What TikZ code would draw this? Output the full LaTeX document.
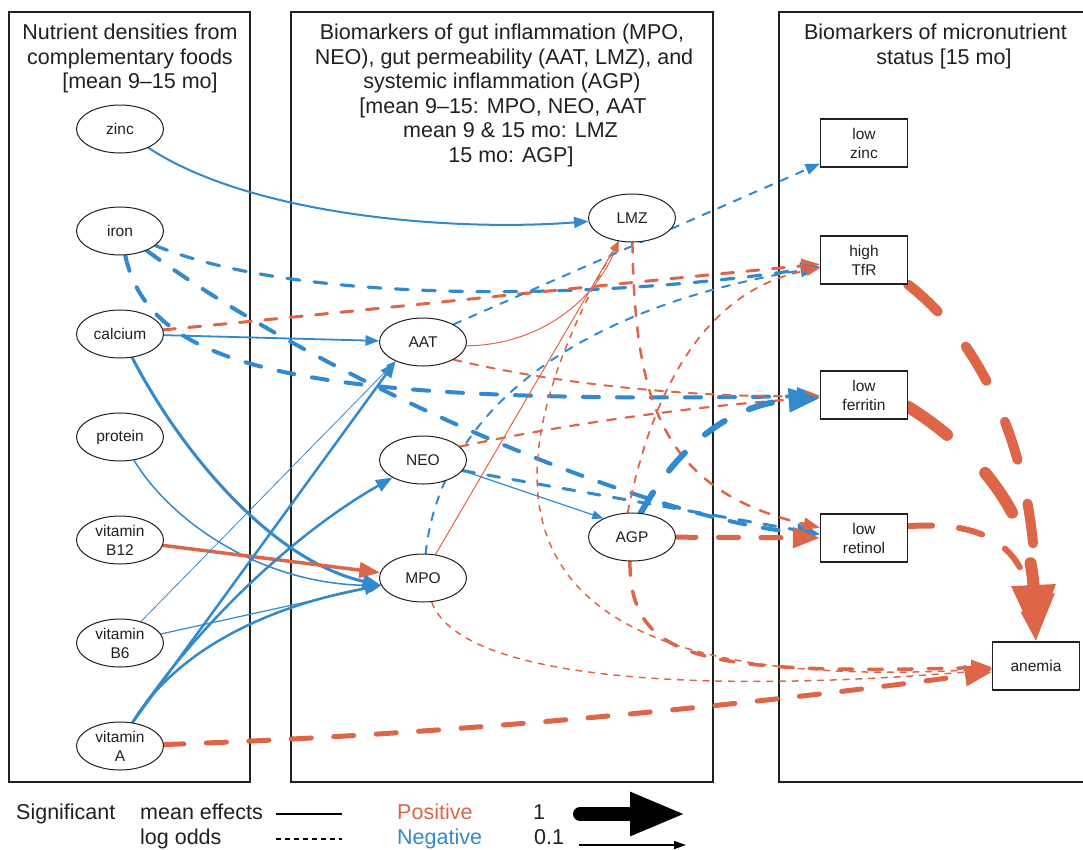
\documentclass[tikz,border=0pt]{standalone}
\usepackage{fontspec}
\setmainfont{Liberation Sans}
\usetikzlibrary{arrows.meta,shapes.geometric}
\definecolor{orng}{RGB}{221,101,72}
\definecolor{blu}{RGB}{50,137,205}
\definecolor{txt}{RGB}{35,31,32}
\pgfdeclarelayer{bg}
\pgfdeclarelayer{edges}
\pgfsetlayers{bg,edges,main}
\begin{document}
\begin{tikzpicture}[x=1pt,y=-1pt,
  every node/.style={text=txt},
  oval/.style={draw=txt, ellipse, fill=white, minimum width=87pt, minimum height=48pt, inner sep=0pt, line width=1pt, font=\fontsize{15.5}{19}\selectfont, align=center},
  sbox/.style={draw=txt, rectangle, fill=white, minimum width=87pt, minimum height=48pt, inner sep=0pt, line width=1.2pt, font=\fontsize{15.5}{19}\selectfont, align=center},
  ttl/.style={anchor=base, inner sep=0pt, font=\fontsize{21.5}{24.5}\selectfont},
  lgd/.style={anchor=base west, inner sep=0pt, font=\fontsize{21.5}{24.5}\selectfont},
  poscol/.style={draw=orng, -{Triangle[length=6pt 4.2,width=5pt 3]}},
  negcol/.style={draw=blu, -{Triangle[length=6pt 4.2,width=5pt 3]}},
  dsh/.code={\pgfmathsetmacro\dOn{4*#1}\pgfmathsetmacro\dOff{4.5*#1}\edef\dTmp{\noexpand\pgfkeysalso{line width=#1pt,line cap=round,dash pattern=on \dOn pt off \dOff pt}}\dTmp},
  sld/.style={line width=#1pt, line cap=round},
]
\useasboundingbox (0,0) rectangle (1083,849);

% panels
\begin{pgfonlayer}{bg}
\draw[line width=1.2pt, draw=txt] (9,12) rectangle (250,782);
\draw[line width=1.2pt, draw=txt] (291,12) rectangle (713,782);
\draw[line width=1.2pt, draw=txt] (1090,12) -- (779,12) -- (779,782) -- (1090,782);
\end{pgfonlayer}

% titles
\node[ttl] (tl1) at (130,39.5) {Nutrient densities from};
\node[ttl] (tl2) at (130,64) {complementary foods};
\node[ttl] (tl3) at (140,88.5) {[mean 9–15 mo]};

\node[ttl] (tm1) at (502,39.5) {Biomarkers of gut inflammation (MPO,};
\node[ttl] (tm2) at (504,64) {NEO), gut permeability (AAT, LMZ), and};
\node[ttl] (tm3) at (502,88.5) {systemic inflammation (AGP)};
\node[ttl] (tm4) at (503,113) {[mean 9–15: MPO, NEO, AAT};
\node[ttl] (tm5) at (510.5,137.5) {mean 9 \& 15 mo: LMZ};
\node[ttl] (tm6) at (511,162) {15 mo: AGP]};

\node[ttl] (tr1) at (935.5,39.5) {Biomarkers of micronutrient};
\node[ttl] (tr2) at (944,64) {status [15 mo]};

% nodes left
\node[oval] (zinc) at (120,129) {zinc};
\node[oval] (iron) at (120,231) {iron};
\node[oval] (calcium) at (120,334) {calcium};
\node[oval] (protein) at (120,437) {protein};
\node[oval] (vb12) at (120,540) {vitamin\\B12};
\node[oval] (vb6) at (120,643) {vitamin\\B6};
\node[oval] (vita) at (120,746) {vitamin\\A};
% nodes middle
\node[oval] (lmz) at (632,218) {LMZ};
\node[oval] (aat) at (423,342) {AAT};
\node[oval] (neo) at (423,460) {NEO};
\node[oval] (mpo) at (423,578) {MPO};
\node[oval] (agp) at (632,537) {AGP};
% nodes right
\node[sbox] (lowzinc) at (864,143) {low\\zinc};
\node[sbox] (tfr) at (864,260) {high\\TfR};
\node[sbox] (ferritin) at (864,395) {low\\ferritin};
\node[sbox] (retinol) at (864,538) {low\\retinol};
\node[sbox] (anemia) at (1036,666) {anemia};

\begin{pgfonlayer}{edges}
% zinc
\draw[negcol, sld=2] (zinc) .. controls (250,215) and (450,232) .. (lmz);
% iron
\draw[negcol, dsh=3.2] (iron) .. controls (300,305) and (600,300) .. (tfr);
\draw[negcol, dsh=4] (iron) .. controls (150,370) and (300,405) .. (ferritin);
\draw[negcol, dsh=4] (iron) .. controls (330,385) and (650,520) .. (retinol);
% calcium
\draw[poscol, dsh=3] (calcium) .. controls (350,312) and (600,285) .. (tfr);
\draw[negcol, sld=1.8] (calcium) -- (aat);
\draw[negcol, sld=3] (calcium) .. controls (180,450) and (270,560) .. (mpo.190);
% protein
\draw[negcol, sld=1.5] (protein) .. controls (170,520) and (260,585) .. (mpo.190);
% B12
\draw[poscol, sld=3.5] (vb12) -- (mpo);
% B6
\draw[negcol, sld=0.8] (vb6) -- (aat.215);
\draw[negcol, sld=1.2] (vb6) -- (mpo.190);
% vitamin A
\draw[negcol, sld=2.5] (vita.62) -- (aat.215);
\draw[negcol, sld=2.5] (vita.62) .. controls (200,620) and (300,530) .. (neo.210);
\draw[negcol, sld=2.5] (vita.62) .. controls (170,660) and (250,610) .. (mpo.190);
\draw[poscol, dsh=5] (vita) .. controls (450,735) and (750,705) .. (anemia);
% AAT
\draw[poscol, sld=1] (aat.355) .. controls (540,345) and (595,300) .. (lmz.240);
\draw[negcol, dsh=2] (aat.30) -- (lowzinc.205);
\draw[poscol, dsh=2] (aat.330) .. controls (560,385) and (700,398) .. (ferritin);
% NEO
\draw[poscol, dsh=2.2] (neo.20) .. controls (560,425) and (700,405) .. (ferritin);
\draw[negcol, sld=1.2] (neo.345) -- (agp.147);
\draw[negcol, dsh=3] (neo.345) -- (retinol.175);
% MPO
\draw[negcol, dsh=2] (mpo) .. controls (440,420) and (560,310) .. (tfr);
\draw[poscol, sld=1] (mpo.62) -- (lmz.240);
\draw[poscol, dsh=1.5] (mpo) .. controls (460,680) and (700,695) .. (anemia);
% LMZ
\draw[poscol, dsh=1.5] (lmz.240) .. controls (480,480) and (470,700) .. (anemia);
\draw[poscol, dsh=2.5] (lmz) .. controls (635,400) and (660,490) .. (retinol);
% AGP
\draw[poscol, dsh=1.8] (agp.100) .. controls (650,400) and (700,290) .. (tfr);
\draw[negcol, dsh=6] (agp.70) .. controls (670,460) and (720,405) .. (ferritin);
\draw[poscol, dsh=5] (agp) -- (retinol);
\draw[poscol, dsh=3.5] (agp.265) .. controls (630,660) and (700,675) .. (anemia);
% micronutrient status -> anemia
\draw[poscol, dsh=10] (tfr.south east) .. controls (980,340) and (1035,450) .. (anemia.north);
\draw[poscol, dsh=6] (retinol.15) .. controls (970,522) and (1025,535) .. (anemia.north);
\draw[poscol, dsh=12] (ferritin.-15) .. controls (970,445) and (1030,510) .. (anemia.north);
\end{pgfonlayer}

% legend
\node[lgd] (sig) at (16,819.5) {Significant};
\node[lgd] (me) at (140,819.5) {mean effects};
\node[lgd] (lo) at (140,844) {log odds};
\coordinate (s1) at (276,814);
\coordinate (s2) at (342,814);
\coordinate (d1) at (276,839);
\coordinate (d2) at (342,839);
\draw[line width=1.5pt, draw=black] (s1) -- (s2);
\draw[line width=1.5pt, draw=black, dash pattern=on 5pt off 4pt] (d1) -- (d2);
\node[lgd, text=orng] (lpos) at (397,819.5) {Positive};
\node[lgd, text=blu] (lneg) at (397,844) {Negative};
\node[lgd] (one) at (533,819.5) {1};
\node[lgd] (tenth) at (534,844) {0.1};
\coordinate (a1) at (580,814);
\coordinate (a2) at (686,814);
\coordinate (b1) at (579,845);
\coordinate (b2) at (686,845);
\draw[line width=14pt, line cap=round, draw=black, -{Triangle[length=56pt,width=40pt]}] (a1) -- (a2);
\draw[line width=1.3pt, draw=black, -{Triangle[length=12pt,width=8pt]}] (b1) -- (b2);
\end{tikzpicture}
\end{document}
